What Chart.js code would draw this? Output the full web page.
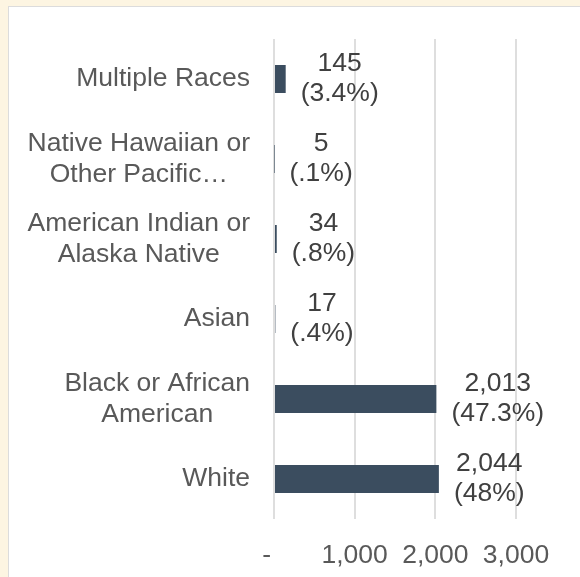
<!DOCTYPE html>
<html>
<head>
<meta charset="utf-8">
<script src="https://cdn.jsdelivr.net/npm/chart.js@4"></script>
<style>
  html, body { margin: 0; padding: 0; }
  body { width: 580px; height: 577px; background: #fdf5e2; position: relative; overflow: hidden; }
  #panel { position: absolute; left: 8px; top: 6px; width: 572px; height: 571px; background: #fff;
           border-left: 1px solid #dcdcdc; border-top: 1px solid #dcdcdc; }
  #chart { position: absolute; left: 0; top: 0; }
</style>
</head>
<body>
<div id="panel"></div>
<canvas id="chart" width="580" height="577"></canvas>
<script>
const categories = [
  ['Multiple Races'],
  ['Native Hawaiian or', 'Other Pacific…'],
  ['American Indian or', 'Alaska Native'],
  ['Asian'],
  ['Black or African', 'American'],
  ['White']
];
const counts = [145, 5, 34, 17, 2013, 2044];
const shares = ['(3.4%)', '(.1%)', '(.8%)', '(.4%)', '(47.3%)', '(48%)'];
const xTicks = [0, 1000, 2000, 3000];

const FONT = '"Liberation Sans", Arial, sans-serif';
const FSIZE = 26.5;

// category labels: right aligned block, lines centred inside it
const catLabels = {
  id: 'catLabels',
  afterDraw(chart) {
    const ctx = chart.ctx, y = chart.scales.y;
    ctx.save();
    ctx.font = FSIZE + 'px ' + FONT;
    ctx.fillStyle = '#595959';
    ctx.textAlign = 'center';
    ctx.textBaseline = 'middle';
    categories.forEach((lines, i) => {
      const cy = y.getPixelForValue(i);
      const w = Math.max(...lines.map(l => ctx.measureText(l).width));
      const cx = y.right - 24 - w / 2;
      lines.forEach((l, k) => ctx.fillText(l, cx, cy + (k - (lines.length - 1) / 2) * 31));
    });
    ctx.restore();
  }
};

// value + share labels past the bar end
const valLabels = {
  id: 'valLabels',
  afterDatasetsDraw(chart) {
    const ctx = chart.ctx;
    const meta = chart.getDatasetMeta(0);
    ctx.save();
    ctx.font = FSIZE + 'px ' + FONT;
    ctx.fillStyle = '#404040';
    ctx.textAlign = 'center';
    ctx.textBaseline = 'middle';
    meta.data.forEach((bar, i) => {
      const lines = [counts[i].toLocaleString('en-US'), shares[i]];
      const w = Math.max(...lines.map(l => ctx.measureText(l).width));
      const cx = bar.x + 15 + w / 2;
      ctx.fillText(lines[0], cx, bar.y - 15);
      ctx.fillText(lines[1], cx, bar.y + 15);
    });
    ctx.restore();
  }
};

new Chart(document.getElementById('chart'), {
  type: 'bar',
  data: {
    labels: categories,
    datasets: [{
      data: counts,
      backgroundColor: '#3b4d5f',
      categoryPercentage: 0.35,
      barPercentage: 1
    }]
  },
  options: {
    indexAxis: 'y',
    responsive: false,
    animation: false,
    layout: { padding: { left: 0, top: 39, right: 64, bottom: 0 } },
    plugins: { legend: { display: false }, tooltip: { enabled: false } },
    scales: {
      x: {
        min: 0, max: 3000,
        afterBuildTicks: s => { s.ticks = xTicks.map(v => ({ value: v })); },
        afterFit: s => { s.height = 58; },
        border: { display: false },
        grid: { color: '#dedede', lineWidth: 2, drawTicks: false },
        ticks: {
          padding: 21,
          color: '#595959',
          font: { family: FONT, size: FSIZE },
          callback: v => v === 0 ? '-  ' : v.toLocaleString('en-US')
        }
      },
      y: {
        afterFit: s => { s.width = 274; },
        border: { display: false },
        grid: { display: false },
        ticks: { display: false }
      }
    }
  },
  plugins: [catLabels, valLabels]
});
</script>
</body>
</html>
